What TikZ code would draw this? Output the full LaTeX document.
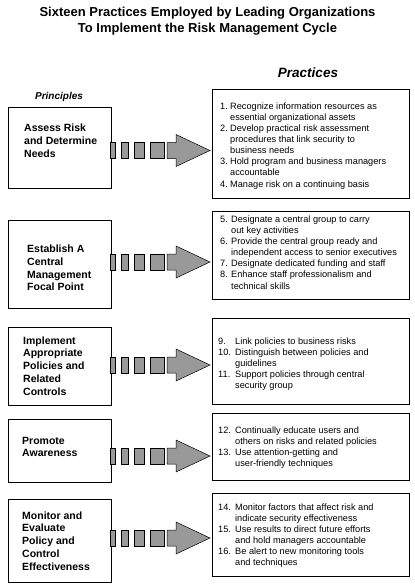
\documentclass[tikz,border=0pt]{standalone}
\usepackage{fontspec}
\setmainfont{Liberation Sans}
\usepackage{array}
\definecolor{arrowgray}{gray}{0.6}
\newlength\numw
\newcommand\rlist[2]{\setlength\numw{#1}\begin{tabular}{@{}p{\numw}@{}l@{}}#2\end{tabular}}
\tikzset{
  lbox/.style={draw=black, line width=0.8pt, minimum width=103pt, anchor=north west, inner sep=0pt},
  rbox/.style={draw=black, line width=0.8pt, minimum width=197pt, anchor=north west, inner sep=0pt},
  ltxt/.style={anchor=west, align=left, inner sep=0pt, font=\fontsize{10.5}{12.8}\selectfont\bfseries},
  rtxt/.style={anchor=west, inner sep=0pt, font=\fontsize{9.2}{11.1}\selectfont},
  ttl/.style={align=center, inner sep=0pt, font=\fontsize{13}{15.5}\selectfont\bfseries},
  seg/.style={fill=arrowgray, draw=black, line width=0.5pt},
  dasharrow/.pic={
    \path[seg] (0,-8) rectangle (5,8);
    \path[seg] (11,-8) rectangle (18,8);
    \path[seg] (24,-8) rectangle (34,8);
    \path[seg] (40,-8) rectangle (54,8);
    \path[seg] (57,-8) -- (66,-8) -- (66,-16) -- (100,0) -- (66,16) -- (66,8) -- (57,8) -- cycle;
  }
}
\begin{document}
\begin{tikzpicture}[x=1pt,y=-1pt]
\useasboundingbox (0,0) rectangle (415,587);

\node[ttl] (title) at (207.5,21) {Sixteen Practices Employed by Leading Organizations\\To Implement the Risk Management Cycle};
\node[inner sep=0pt, font=\fontsize{13.5}{16}\selectfont\bfseries\itshape] (prac) at (308,73) {Practices};
\node[inner sep=0pt, font=\fontsize{10}{12}\selectfont\bfseries\itshape] (princ) at (59,97) {Principles};

% left boxes
\node[lbox, minimum height=81pt] (L1) at (8,107) {};
\node[lbox, minimum height=88pt] (L2) at (8,220) {};
\node[lbox, minimum height=78pt] (L3) at (8,327) {};
\node[lbox, minimum height=63pt] (L4) at (8,419) {};
\node[lbox, minimum height=83pt] (L5) at (8,499) {};

\node[ltxt] (T1) at (24,141) {Assess Risk\\and Determine\\Needs};
\node[ltxt] (T2) at (27,268) {Establish A\\Central\\Management\\Focal Point};
\node[ltxt] (T3) at (23,366) {Implement\\Appropriate\\Policies and\\Related\\Controls};
\node[ltxt] (T4) at (22,447) {Promote\\Awareness};
\node[ltxt] (T5) at (22,541) {Monitor and\\Evaluate\\Policy and\\Control\\Effectiveness};

% right boxes
\node[rbox, minimum height=109pt] (R1) at (212,89) {};
\node[rbox, minimum height=88pt] (R2) at (212,211) {};
\node[rbox, minimum height=86pt] (R3) at (212,318) {};
\node[rbox, minimum height=67pt] (R4) at (212,413) {};
\node[rbox, minimum height=83pt] (R5) at (212,493) {};

\node[rtxt] (P1) at (220,146) {\rlist{10pt}{%
1. & Recognize information resources as\\
   & essential organizational assets\\
2. & Develop practical risk assessment\\
   & procedures that link security to\\
   & business needs\\
3. & Hold program and business managers\\
   & accountable\\
4. & Manage risk on a continuing basis}};
\node[rtxt] (P2) at (220,253.5) {\rlist{11pt}{%
5. & Designate a central group to carry\\
   & out key activities\\
6. & Provide the central group ready and\\
   & independent access to senior executives\\
7. & Designate dedicated funding and staff\\
8. & Enhance staff professionalism and\\
   & technical skills}};
\node[rtxt] (P3) at (218,364.5) {\rlist{17pt}{%
9. & Link policies to business risks\\
10. & Distinguish between policies and\\
    & guidelines\\
11. & Support policies through central\\
    & security group}};
\node[rtxt] (P4) at (218,448) {\rlist{17pt}{%
12. & Continually educate users and\\
    & others on risks and related policies\\
13. & Use attention-getting and\\
    & user-friendly techniques}};
\node[rtxt] (P5) at (218,536) {\rlist{17pt}{%
14. & Monitor factors that affect risk and\\
    & indicate security effectiveness\\
15. & Use results to direct future efforts\\
    & and hold managers accountable\\
16. & Be alert to new monitoring tools\\
    & and techniques}};

% block arrows
\coordinate (a1) at (110,150.5);
\coordinate (a2) at (110,262);
\coordinate (a3) at (110,365);
\coordinate (a4) at (110,456);
\coordinate (a5) at (110,538);
\pic at (a1) {dasharrow};
\pic at (a2) {dasharrow};
\pic at (a3) {dasharrow};
\pic at (a4) {dasharrow};
\pic at (a5) {dasharrow};
\end{tikzpicture}
\end{document}
